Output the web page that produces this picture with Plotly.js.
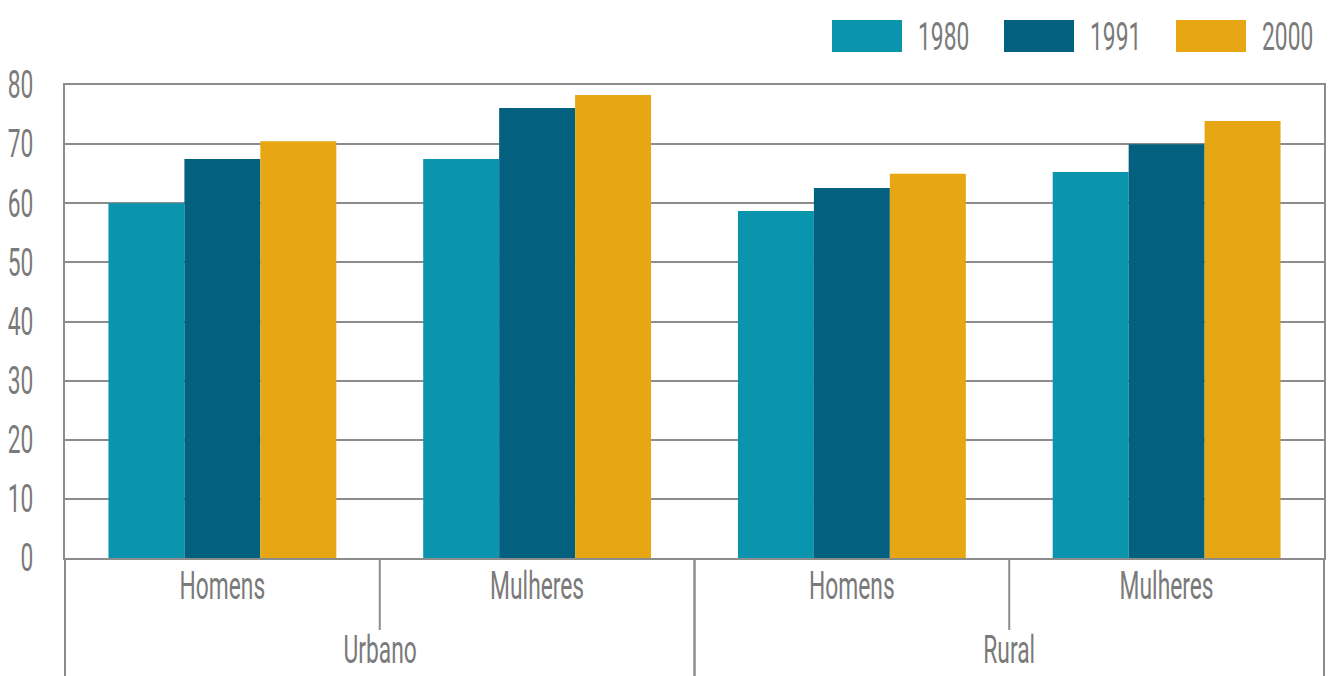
<!DOCTYPE html>
<html>
<head>
<meta charset="utf-8">
<script src="https://cdn.plot.ly/plotly-3.0.1.min.js"></script>
<style>
html,body{margin:0;padding:0;background:#fff;}
#chart{width:1335px;height:676px;}
</style>
</head>
<body>
<div id="chart"></div>
<script>
// ---- data ----
const areas = ["Urbano", "Urbano", "Rural", "Rural"];
const sexes = ["Homens", "Mulheres", "Homens", "Mulheres"];
const years = ["1980", "1991", "2000"];
const v1980 = [60.0, 67.5, 58.7, 65.3];
const v1991 = [67.5, 76.1, 62.6, 70.0];
const v2000 = [70.5, 78.3, 65.0, 73.9];
const yTicks = [0, 10, 20, 30, 40, 50, 60, 70, 80];

// ---- style ----
const colors = ["#0b94ae", "#03617f", "#e7a613"];
const textColor = "#7a7a7a";
const lineColor = "#8c8c8c";
const FONT = "Roboto, 'Noto Sans', sans-serif";
const FS = 38;          // font size
const CONDENSE = 0.6;   // horizontal squeeze of all texts (condensed look)

// unique category keys, displayed with the sex label only
const cats = areas.map((a, i) => a + " - " + sexes[i]);

const series = [v1980, v1991, v2000];
const traces = series.map((vals, i) => ({
  type: "bar",
  name: years[i],
  x: cats,
  y: vals,
  marker: {color: colors[i], line: {width: 0}},
  hoverinfo: "x+y+name"
}));

// plot area in pixels
const L = 65, R = 11, T = 85, B = 118, W = 1335, H = 676;
const pw = W - L - R, ph = H - T - B;
const px = x => (x - L) / pw;        // pixel x -> paper
const py = y => (H - B - y) / ph;    // pixel y -> paper

const shapes = [];
const annotations = [];
const n = cats.length;

// group labels and dividers derived from the areas array
const groups = [];
areas.forEach((a, i) => {
  if (!groups.length || groups[groups.length - 1].name !== a) groups.push({name: a, start: i, end: i});
  else groups[groups.length - 1].end = i;
});
const bottomPaper = py(H);
groups.forEach(g => {
  [g.start / n, (g.end + 1) / n].forEach(xp => shapes.push({
    type: "line", xref: "paper", yref: "paper", x0: xp, x1: xp, y0: 0, y1: bottomPaper,
    line: {color: lineColor, width: 2}
  }));
  for (let k = g.start + 1; k <= g.end; k++) {
    shapes.push({
      type: "line", xref: "paper", yref: "paper", x0: k / n, x1: k / n, y0: 0, y1: py(630),
      line: {color: lineColor, width: 2}
    });
  }
  annotations.push({
    xref: "paper", yref: "paper", x: (g.start + g.end + 1) / 2 / n, y: py(650),
    xanchor: "center", yanchor: "middle", showarrow: false,
    text: g.name, font: {family: FONT, size: FS, color: textColor}
  });
});

// custom legend (big swatches)
const legStart = 832, legStep = 172, swW = 70;
years.forEach((yr, i) => {
  const x0 = legStart + i * legStep;
  shapes.push({
    type: "rect", xref: "paper", yref: "paper",
    x0: px(x0), x1: px(x0 + swW), y0: py(52), y1: py(20),
    fillcolor: colors[i], line: {width: 0}
  });
  annotations.push({
    xref: "paper", yref: "paper", x: px(x0 + swW + 14), y: py(37),
    xanchor: "left", yanchor: "middle", showarrow: false,
    text: yr, font: {family: FONT, size: FS, color: textColor}
  });
});

const layout = {
  width: W, height: H,
  margin: {l: L, r: R, t: T, b: B, pad: 0},
  paper_bgcolor: "#ffffff",
  plot_bgcolor: "#ffffff",
  showlegend: false,
  barmode: "group",
  bargap: 0.276,
  bargroupgap: 0,
  font: {family: FONT, size: FS, color: textColor},
  xaxis: {
    type: "category",
    tickvals: cats,
    ticktext: sexes,
    showline: true, linecolor: lineColor, linewidth: 2, mirror: true,
    ticks: "", showgrid: false,
    ticklabelstandoff: -7,
    tickfont: {family: FONT, size: FS, color: textColor},
    fixedrange: true
  },
  yaxis: {
    range: [0, 80],
    tickvals: yTicks,
    showline: true, linecolor: lineColor, linewidth: 2, mirror: true,
    showgrid: true, gridcolor: lineColor, gridwidth: 2,
    zeroline: false,
    ticks: "",
    ticklabelstandoff: 22,
    tickfont: {family: FONT, size: FS, color: textColor},
    fixedrange: true
  },
  shapes: shapes,
  annotations: annotations
};

// squeeze each text horizontally around its visual anchor (condensed typeface look)
function squeeze(el, pivot) {
  const prev = el.getAttribute("transform") || "";
  el.setAttribute("transform",
    prev + " translate(" + pivot + ",0) scale(" + CONDENSE + ",1) translate(" + (-pivot) + ",0)");
}
function condense(gd) {
  gd.querySelectorAll("svg text").forEach(el => {
    const ann = el.closest("g.annotation");
    if (ann) {
      const idx = parseInt(ann.getAttribute("data-index"), 10);
      const xa = (layout.annotations[idx] || {}).xanchor || "center";
      const bb = el.getBBox();
      const pivot = xa === "left" ? bb.x : xa === "right" ? bb.x + bb.width : bb.x + bb.width / 2;
      squeeze(el, pivot);
    } else {
      squeeze(el, parseFloat(el.getAttribute("x") || "0") || 0);
    }
  });
}

Plotly.newPlot("chart", traces, layout, {displayModeBar: false, staticPlot: true})
  .then(condense);
</script>
</body>
</html>
